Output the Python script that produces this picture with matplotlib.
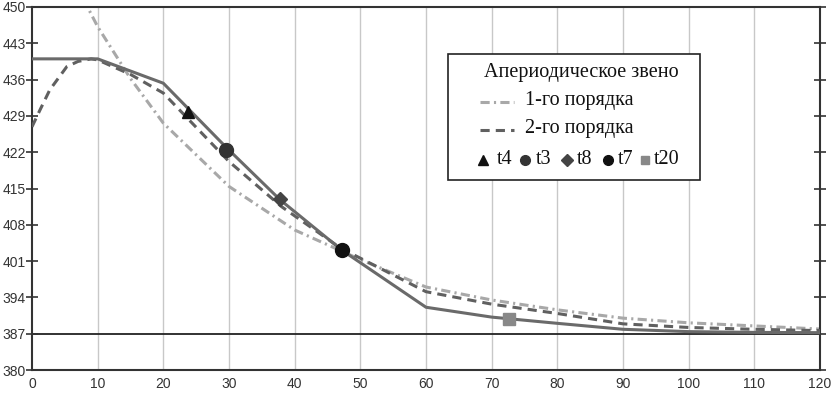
import matplotlib
matplotlib.use("Agg")
import matplotlib.pyplot as plt
from matplotlib.lines import Line2D
from matplotlib.patches import Rectangle

# ---- data ----
t_exp = [0, 10, 20, 29.6, 37.8, 47.2, 60, 70, 80, 90, 100, 110, 120]
y_exp = [440, 440, 435.3, 422.9, 412.8, 403.1, 392.1, 390.2, 389.0, 387.85, 387.4, 387.25, 387.2]

t_first = [0, 5, 10, 15, 20, 30, 40, 50, 60, 70, 80, 90, 100, 110, 120]
y_first = [473, 458.5, 446.2, 436.2, 427.6, 415.4, 407.0, 401.3, 396.0, 393.5, 391.6, 390.0, 389.1, 388.5, 387.9]

t_second = [0, 1.2, 2.7, 5.3, 7, 9, 10, 15, 20, 30, 38, 47, 60, 70, 80, 90, 100, 110, 120]
y_second = [426.9, 430.1, 434.0, 438.5, 439.5, 440.0, 439.8, 437.0, 433.4, 420.2, 411.5, 403.5, 395.1, 392.7, 390.9, 388.9, 388.2, 387.85, 387.6]

steady = 387

pt_names = ["t4", "t3", "t8", "t7", "t20"]
pt_t = [23.8, 29.6, 37.8, 47.2, 72.7]
pt_y = [429.8, 422.4, 413.0, 403.2, 389.8]

x_ticks = list(range(0, 121, 10))
y_ticks = [380, 387, 394, 401, 408, 415, 422, 429, 436, 443, 450]

legend_title = "Апериодическое звено"
label_first = "1-го порядка"
label_second = "2-го порядка"

# ---- styles ----
pt_markers = ["^", "o", "D", "o", "s"]
pt_colors = ["#111111", "#333333", "#444444", "#111111", "#888888"]
pt_sizes = [9, 10, 7, 10, 9]

fig = plt.figure(figsize=(8.31, 3.96), dpi=100)
ax = fig.add_axes([32/831, 1-370/396, (820-32)/831, (370-7)/396])

ax.set_xlim(0, 120)
ax.set_ylim(380, 450)
for x in x_ticks[1:-1]:
    ax.axvline(x, color="#c8c8c8", lw=1.0, zorder=0)

ax.axhline(steady, color="#222222", lw=1.3, zorder=1)

ax.plot(t_first, y_first, color="#a8a8a8", lw=2.2, dashes=(3, 1.4, 0.7, 1.4), zorder=2)
ax.plot(t_second, y_second, color="#606060", lw=2.2, dashes=(3, 2), zorder=3)
ax.plot(t_exp, y_exp, color="#6a6a6a", lw=2.2, zorder=4)

for m, c, s, tx, ty in zip(pt_markers, pt_colors, pt_sizes, pt_t, pt_y):
    ax.plot([tx], [ty], marker=m, color=c, markersize=s, linestyle="none", zorder=5)

ax.set_xticks(x_ticks)
ax.set_yticks(y_ticks)
tick_font = dict(family="Liberation Sans", size=10)
ax.set_xticklabels([str(v) for v in x_ticks], **tick_font)
ax.set_yticklabels([str(v) for v in y_ticks], **tick_font)
ax.tick_params(axis="x", length=0, pad=5, colors="#333333")
ax.tick_params(axis="y", direction="inout", length=9, width=1.2, pad=0, colors="#333333",
               right=True, labelright=False)
for s in ax.spines.values():
    s.set_color("#333333")
    s.set_linewidth(1.5)

# ---- manual legend (figure pixel coordinates) ----
W, H = 831, 396
def fx(px): return px / W
def fy(py): return 1 - py / H

fig.patches.append(Rectangle((fx(448), fy(180)), (700-448)/W, (180-54)/H,
                             transform=fig.transFigure, facecolor="white",
                             edgecolor="#222222", lw=1.2, zorder=10))
serif = dict(family="Liberation Serif", size=14.5, color="#111111", zorder=11)
fig.text(fx(581), fy(72), legend_title, ha="center", va="center", **serif)
fig.add_artist(Line2D([fx(480), fx(514)], [fy(102), fy(102)], color="#a8a8a8", lw=2.2,
                      dashes=(3, 1.4, 0.7, 1.4), transform=fig.transFigure, zorder=11))
fig.text(fx(525), fy(101), label_first, ha="left", va="center", **serif)
fig.add_artist(Line2D([fx(480), fx(514)], [fy(130), fy(130)], color="#606060", lw=2.2,
                      dashes=(3, 2), transform=fig.transFigure, zorder=11))
fig.text(fx(525), fy(129), label_second, ha="left", va="center", **serif)

mk_x = [483, 525, 567, 608, 645]
lb_x = [497, 536, 577, 618, 654]
leg_sizes = [7, 7, 6, 7, 6]
for m, c, s, mx, lx, name in zip(pt_markers, pt_colors, leg_sizes, mk_x, lb_x, pt_names):
    fig.add_artist(Line2D([fx(mx)], [fy(160)], marker=m, color=c, markersize=s,
                          linestyle="none", transform=fig.transFigure, zorder=11))
    fig.text(fx(lx), fy(159), name, ha="left", va="center", **serif)

fig.savefig("out.png", dpi=100)
